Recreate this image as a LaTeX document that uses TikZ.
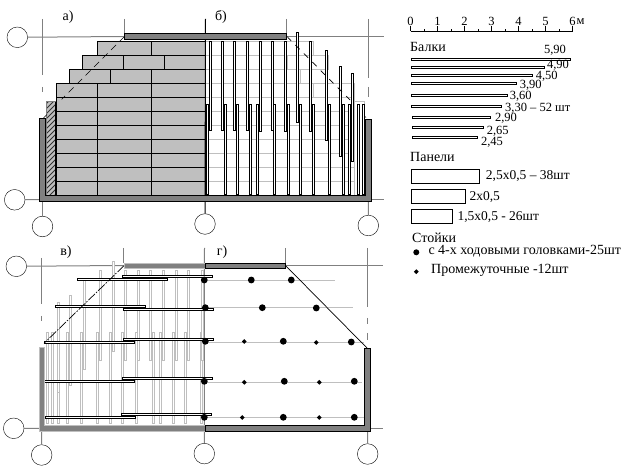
\documentclass[tikz,border=0pt]{standalone}
\usepackage{fontspec}
\setmainfont{Liberation Serif}
\usetikzlibrary{positioning}

\definecolor{wallgray}{gray}{0.5}
\definecolor{panelgray}{gray}{0.75}

\tikzset{
	axiscircle/.style={draw, circle, minimum size=20.6pt, inner sep=0pt, fill=white},
	gridline/.style={draw=wallgray, line width=1pt},
	wall/.style={fill=wallgray, draw=black, line width=1pt},
	lightwall/.style={fill=wallgray, draw=panelgray, line width=1pt},
	panel/.style={fill=panelgray, draw=black, line width=1pt},
	lightline/.style={draw=panelgray, line width=1pt},
	beam/.style={fill=white, draw=black, line width=1pt},
	lightbeam/.style={fill=white, draw=panelgray, line width=1pt},
	bigdot/.style={fill=black, radius=3.4pt},
	lab/.style={font=\fontsize{14}{15}\selectfont, inner sep=0pt},
	leglab/.style={lab, anchor=west},
	numlab/.style={font=\fontsize{12.5}{13}\selectfont, inner sep=0pt},
	panlab/.style={font=\fontsize{13.5}{14}\selectfont, inner sep=0pt, anchor=west},
}

\begin{document}
\begin{tikzpicture}[x=1pt, y=-1pt]
	
	\useasboundingbox (0,0) rectangle (633,468);
	
	% parameters
	\def\bw{1}            % half width of a beam
	\def\sd{2.4}          % half size of a small prop
	
	% ---------- upper plan ----------
	
	% axes
	\node[axiscircle] (a1) at (17.3,37.3) {};
	\node[axiscircle] (a2) at (14.7,199.8) {};
	\node[axiscircle] (a3) at (42.5,226.5) {};
	\node[axiscircle] (a4) at (205,224) {};
	\node[axiscircle] (a5) at (368.3,225.5) {};
	\draw[gridline] (a1) -- (124.5,36.5);
	\draw[gridline] (287,36.5) -- (384,36.5);
	\draw[gridline] (a2) -- (40,199.5);
	\draw[gridline] (371,199.5) -- (384,199.5);
	\draw[gridline] (42.5,19) -- (42.5,75);
	\draw[gridline] (42.5,87) -- (42.5,92);
	\draw[gridline] (42.5,202) -- (a3);
	\draw[gridline] (124.5,19) -- (124.5,33);
	\draw[gridline] (286.5,19) -- (286.5,33);
	\draw[gridline] (368.5,19) -- (368.5,78);
	\draw[gridline] (368.5,87) -- (368.5,97);
	\draw[gridline] (368.5,202) -- (a5);
	
	% left half: panels
	\foreach \y in {83.5,97.5,...,181.5} {
		\draw[panel] (56.5,\y) rectangle (97.5,\y+14);
		\draw[panel] (97.5,\y) rectangle (151.5,\y+14);
		\draw[panel] (151.5,\y) rectangle (205.5,\y+14);
	}
	\draw[panel] (69.5,69.5) rectangle (110.5,83.5);
	\draw[panel] (110.5,69.5) rectangle (151.5,83.5);
	\draw[panel] (151.5,69.5) rectangle (205.5,83.5);
	\draw[panel] (82.5,55.5) rectangle (123.5,69.5);
	\draw[panel] (123.5,55.5) rectangle (164.5,69.5);
	\draw[panel] (164.5,55.5) rectangle (205.5,69.5);
	\draw[panel] (97.5,41.5) rectangle (151.5,55.5);
	\draw[panel] (151.5,41.5) rectangle (205.5,55.5);
	
	% hatched strip
	\fill[panelgray] (46.5,101.5) rectangle (55.5,195.5);
	\begin{scope}
		\clip (46.5,101.5) rectangle (55.5,195.5);
		\foreach \y in {104,109,...,204} {
			\draw[line width=0.8pt, black!80] (46,\y) -- (56,\y-10);
		}
	\end{scope}
	\draw[line width=1pt, black] (55.5,101.5) -- (55.5,195.5);
	\draw[line width=1pt, wallgray] (46.5,195.5) -- (46.5,101.5) -- (55.5,101.5);
	
	% right half: panels, seen through
	\foreach \y in {111.5,125.5,...,181.5} {
		\draw[lightline] (205.5,\y) -- (354.5,\y);
	}
	\draw[lightline] (205.5,41.5) -- (313.5,41.5);
	\draw[lightline] (205.5,55.5) -- (328.5,55.5);
	\draw[lightline] (205.5,69.5) -- (328.5,69.5);
	\draw[lightline] (205.5,83.5) -- (354.5,83.5);
	\draw[lightline] (205.5,97.5) -- (354.5,97.5);
	\draw[lightline] (313.5,41.5) -- (313.5,55.5);
	\draw[lightline] (287.5,55.5) -- (287.5,69.5);
	\draw[lightline] (328.5,55.5) -- (328.5,69.5);
	\draw[lightline] (300.5,69.5) -- (300.5,83.5);
	\draw[lightline] (313.5,83.5) -- (313.5,97.5);
	\draw[lightline] (354.5,83.5) -- (354.5,195.5);
	\draw[lightline] (354.5,101.5) -- (364.5,101.5) -- (364.5,195.5);
	
	% beams of the right half
	\foreach \x in {207.5,225.5,237.5,250.5,257.5,274.5,288.5,300.5,313.5,329.5,343.5,349.5,358.5,363.5} {
		\draw[beam] (\x-\bw,104.5) rectangle (\x+\bw,194.5);
	}
	\foreach \x/\ya/\yb in {210.5/41.5/130.5, 222.5/41.5/130.5, 234.5/41.5/130.5, 247.5/41.5/130.5,
		260.5/41.5/131.5, 272.5/41.5/130.5, 285.5/41.5/131.5, 297.5/32.5/122.5, 310.5/41.5/131.5,
		326.5/50.5/140.5, 340.5/66.5/156.5, 352.5/73.5/161.5} {
		\draw[beam] (\x-\bw,\ya) rectangle (\x+\bw,\yb);
	}
	
	% axis b over the beams
	\draw[line width=1pt] (205.5,19) -- (a4);
	
	% walls
	\draw[wall] (39.5,118.5) -- (45.5,118.5) -- (45.5,195.5) -- (365.5,195.5) -- (365.5,119.5)
		-- (371.5,119.5) -- (371.5,201.5) -- (39.5,201.5) -- cycle;
	\draw[wall] (124.5,33.5) rectangle (286.5,39.5);
	
	% roof lines
	\draw[line width=0.7pt, dash pattern=on 7pt off 5pt] (124.5,36.5) -- (61.7,99.3);
	\draw[line width=0.7pt] (43.5,118) -- (47,114.5);
	\draw[line width=0.7pt, dash pattern=on 6pt off 6pt] (287,36.5) -- (350,100);
	\draw[line width=0.7pt] (366,117.5) -- (365,116.5);
	
	\node[lab] (lba) at (68,17) {а)};
	\node[lab] (lbb) at (221,17) {б)};
	
	% ---------- lower plan ----------
	
	% axes
	\node[axiscircle] (b1) at (16.3,266.3) {};
	\node[axiscircle] (b2) at (13.7,428.3) {};
	\node[axiscircle] (b3) at (41.7,455) {};
	\node[axiscircle] (b4) at (204.3,453.6) {};
	\node[axiscircle] (b5) at (367.7,454) {};
	\draw[gridline] (b1) -- (123.5,265.5);
	\draw[gridline] (285.5,265.5) -- (383,265.5);
	\draw[gridline] (b2) -- (39,428.5);
	\draw[gridline] (370,428.5) -- (383,428.5);
	\draw[gridline] (41.5,258) -- (41.5,304);
	\draw[gridline] (41.5,316) -- (41.5,321);
	\draw[gridline] (41.5,431) -- (b3);
	\draw[gridline] (123.5,248) -- (123.5,263);
	\draw[gridline] (285.5,248) -- (285.5,263);
	\draw[gridline] (367.5,248) -- (367.5,307);
	\draw[gridline] (367.5,318) -- (367.5,324);
	\draw[gridline] (367.5,333) -- (367.5,340);
	\draw[gridline] (367.5,431) -- (b5);
	\draw[gridline] (204.5,248) -- (b4);
	
	% beams, seen through
	\foreach \x in {47.5,52.5,58.5,67.5,81.5,97.5,110.5,122.5,136.5,153.5,160.5,173.5,185.5,201.5} {
		\draw[lightbeam] (\x-\bw,332.5) rectangle (\x+\bw,423.5);
	}
	\foreach \x/\ya/\yb in {58.5/302.5/392.5, 70.5/295.5/385.5, 84.5/279.5/369.5, 100.5/270.5/360.5, 113.5/261.5/351.5,
		125.5/270.5/360.5, 138.5/270.5/360.5, 150.5/270.5/360.5, 163.5/270.5/360.5, 176.5/270.5/360.5,
		188.5/270.5/360.5, 202.5/270.5/360.5} {
		\draw[lightbeam] (\x-\bw,\ya) rectangle (\x+\bw,\yb);
	}
	
	% light lines of the right half
	\foreach \y/\xb in {280.5/335, 307.5/352.7, 342.5/364, 382.5/361.7, 417.5/364} {
		\draw[lightline] (204.5,\y) -- (\xb,\y);
	}
	
	% beams across
	\foreach \xa/\xb/\y in {77.5/167.5/279.5, 55.5/145.5/306.5, 44.5/134.5/342.5, 44.5/134.5/381.5, 45.5/135.5/417.5,
		122.5/212.5/276.5, 123.5/213.5/309.5, 123.5/213.5/339.5, 122.5/212.5/378.5, 121.5/211.5/414.5} {
		\draw[beam] (\xa,\y-\bw) rectangle (\xb,\y+\bw);
	}
	
	% walls
	\draw[lightwall] (39.5,347.5) -- (44.5,347.5) -- (44.5,425.5) -- (205,425.5) -- (205,431.5) -- (39.5,431.5) -- cycle;
	\draw[lightwall] (124,263.5) rectangle (205,268.5);
	\draw[wall] (205,425.5) -- (364.5,425.5) -- (364.5,348.5) -- (370.5,348.5) -- (370.5,431.5) -- (205,431.5) -- cycle;
	\draw[wall] (205,263.5) rectangle (285.5,268.5);
	
	% roof lines
	\draw[line width=0.7pt, dash pattern=on 9pt off 1.5pt on 1.5pt off 1.5pt] (124,265.7) -- (44,343.3);
	\draw[line width=0.7pt] (285.5,265.5) -- (367,348);
	
	% props
	\foreach \x/\y in {204.3/280, 251.3/280, 291.3/280, 205.3/307.7, 262.3/307.7, 316.3/308,
		205.3/341.3, 283.3/341.3, 351.3/342, 204.3/381.3, 284.3/381.3, 354.3/381.3,
		204.3/417.3, 283.3/417.3, 354.3/417.3} {
		\fill[bigdot] (\x,\y) circle;
	}
	\foreach \x/\y in {244.3/341.5, 316.3/342.5, 244.3/382.3, 319.3/382.3, 242.3/417.5, 319.3/417.5} {
		\fill (\x-\sd,\y) -- (\x,\y-\sd) -- (\x+\sd,\y) -- (\x,\y+\sd) -- cycle;
	}
	
	\node[lab] (lbc) at (66,252) {в)};
	\node[lab] (lbd) at (222,252) {г)};
	
	% ---------- legend ----------
	
	% scale
	\draw[line width=1pt] (410.5,31.5) -- (572.5,31.5);
	\foreach \i in {0,...,6} {
		\draw[line width=1pt] (410.5+27*\i,31.5) -- ++(0,-5);
		\node[numlab] (sc\i) at (410.5+27*\i,21.5) {\i};
	}
	\foreach \i in {0,...,5} {
		\draw[line width=1pt] (424+27*\i,31.5) -- ++(0,-2);
	}
	\node[numlab, right=0.5pt of sc6] (scm) {м};
	
	\node[leglab] (balki) at (410,47) {Балки};
	\foreach \xa/\xb/\y in {411.5/570.5/59.5, 411.5/544.5/67.5, 411.5/532.5/75.5, 411.5/516.5/83.5, 411.5/507.5/95.5,
		411.5/501.5/106.5, 412.5/490.5/117.5, 412.5/483.5/127.5, 412.5/477.5/137.5} {
		\draw[line width=1pt, fill=white] (\xa,\y-\bw) rectangle (\xb,\y+\bw);
	}
	\node[numlab] (b590) at (555,50) {5,90};
	\node[numlab] (b490) at (558,65.5) {4,90};
	\node[numlab] (b450) at (546.7,76) {4,50};
	\node[numlab] (b390) at (530.7,85) {3,90};
	\node[numlab] (b360) at (520.7,96) {3,60};
	\node[numlab, anchor=west] (b330) at (505,108) {3,30 – 52 шт};
	\node[numlab] (b290) at (506,118.7) {2,90};
	\node[numlab] (b265) at (497.7,131) {2,65};
	\node[numlab] (b245) at (492,142.7) {2,45};
	
	\node[leglab] (paneli) at (410,157.3) {Панели};
	\draw[line width=1pt] (411.5,169.5) rectangle (479.5,183.5);
	\draw[line width=1pt] (411.5,189.5) rectangle (465.5,203.5);
	\draw[line width=1pt] (411.5,209.5) rectangle (452.5,223.5);
	\node[panlab] (p25) at (485.7,176) {2,5х0,5 – 38шт};
	\node[panlab] (p20) at (469.3,197) {2х0,5};
	\node[panlab] (p15) at (457.3,216.7) {1,5х0,5 - 26шт};
	
	\node[leglab] (stoiki) at (412,237.7) {Стойки};
	\fill[bigdot, radius=3pt] (416.3,252.3) circle;
	\fill (416.3-\sd,271.7) -- (416.3,271.7-\sd) -- (416.3+\sd,271.7) -- (416.3,271.7+\sd) -- cycle;
	\node[leglab] (s4x) at (428.3,251) {с 4-х ходовыми головками-25шт};
	\node[leglab] (spr) at (431,270) {Промежуточные -12шт};
	
\end{tikzpicture}
\end{document}
